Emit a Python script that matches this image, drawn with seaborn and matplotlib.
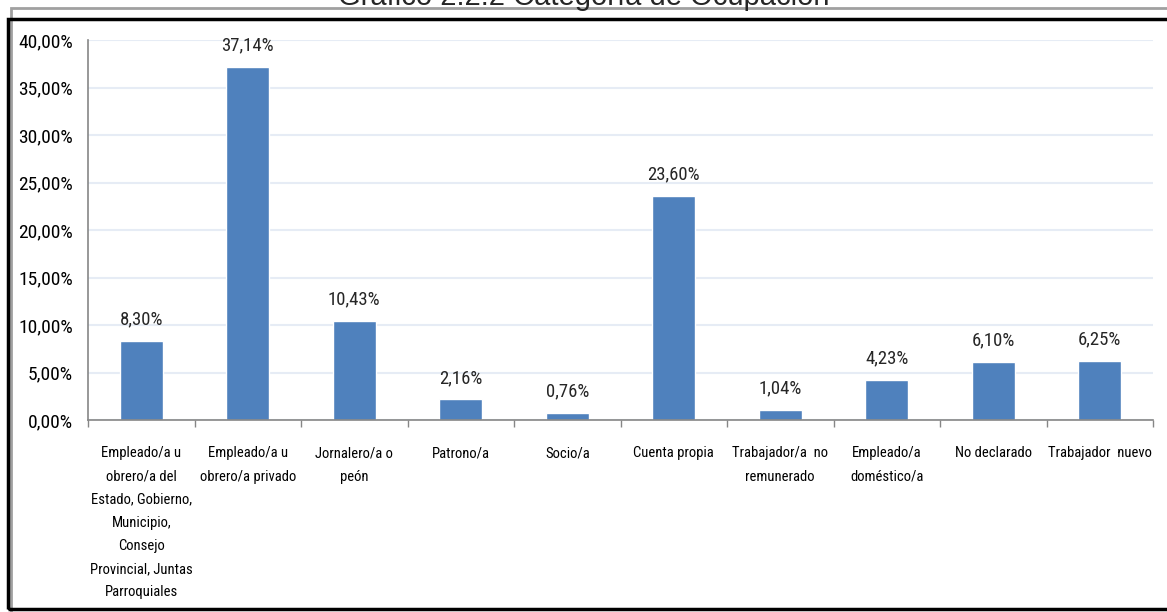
import matplotlib
matplotlib.use("Agg")
import matplotlib.pyplot as plt
from matplotlib.patches import Rectangle
from matplotlib.ticker import FuncFormatter, MultipleLocator, FixedLocator
import seaborn as sns
import pandas as pd

# Datos del gráfico
categorias = [
    "Empleado/a u\nobrero/a del\nEstado, Gobierno,\nMunicipio,\nConsejo\nProvincial, Juntas\nParroquiales",
    "Empleado/a u\nobrero/a privado",
    "Jornalero/a o\npeón",
    "Patrono/a",
    "Socio/a",
    "Cuenta propia",
    "Trabajador/a  no\nremunerado",
    "Empleado/a\ndoméstico/a",
    "No declarado",
    "Trabajador  nuevo",
]
porcentajes = [8.30, 37.14, 10.43, 2.16, 0.76, 23.60, 1.04, 4.23, 6.10, 6.25]

df = pd.DataFrame({"categoria": categorias, "porcentaje": porcentajes})

sns.set_style("white")
plt.rcParams["font.family"] = ["Roboto Condensed", "Liberation Sans Narrow", "Roboto", "DejaVu Sans"]

W, H = 1167, 612
fig = plt.figure(figsize=(W / 100, H / 100), dpi=100)
ax = fig.add_axes([88 / W, 1 - 420 / H, (1153 - 88) / W, (420 - 40) / H])

sns.barplot(data=df, x="categoria", y="porcentaje", color="#4F81BD",
            width=0.4, saturation=1, ax=ax)

ax.set_ylim(0, 40)
ax.set_xlim(-0.5, len(categorias) - 0.5)
ax.yaxis.set_major_locator(MultipleLocator(5))
ax.yaxis.set_major_formatter(FuncFormatter(lambda v, p: f"{v:.2f}".replace(".", ",") + "%"))
ax.grid(axis="y", color="#E6ECF5", linewidth=1.5)
ax.set_axisbelow(True)
ax.set_xlabel("")
ax.set_ylabel("")

for s in ["top", "right"]:
    ax.spines[s].set_visible(False)
for s in ["left", "bottom"]:
    ax.spines[s].set_color("#868686")
    ax.spines[s].set_linewidth(1.2)

ax.tick_params(axis="y", labelsize=14, length=5, width=1, color="#868686", pad=6, labelcolor="black")
ax.tick_params(axis="x", which="major", labelsize=10.5, length=0, pad=19, labelcolor="black")
ax.xaxis.set_minor_locator(FixedLocator([i - 0.5 for i in range(len(categorias) + 1)]))
ax.tick_params(axis="x", which="minor", length=5, width=1, color="#868686", bottom=True)
for lbl in ax.get_xticklabels():
    lbl.set_linespacing(1.83)
    lbl.set_va("top")

etiquetas = [f"{v:.2f}".replace(".", ",") + "%" for v in porcentajes]
ax.bar_label(ax.containers[0], labels=etiquetas, padding=9, fontsize=13.5)

# Título (cortado en la parte superior, como en el original)
fig.text(0.5, 1 - 5 / H, "Gráfico 2.2.2 Categoría de Ocupación",
         ha="center", va="baseline", fontsize=21, family=["Liberation Sans", "DejaVu Sans"])

# Marcos
fig.patches.append(Rectangle((11 / W, -0.05), 1.2, 1 - 8 / H + 0.05, transform=fig.transFigure,
                             fill=False, edgecolor="#A0A0A0", linewidth=2))
fig.patches.append(Rectangle((8 / W, 1 - 609 / H), 1.2, (609 - 19) / H, transform=fig.transFigure,
                             fill=False, edgecolor="black", linewidth=2.5))

fig.savefig("out.png", dpi=100)
